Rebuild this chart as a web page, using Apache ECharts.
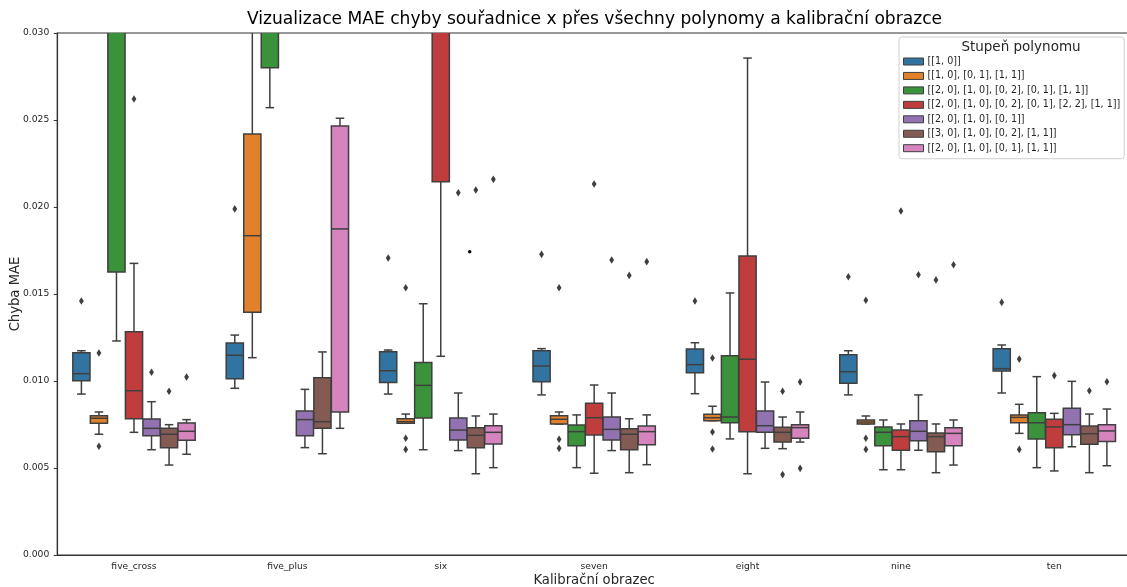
<!DOCTYPE html>
<html><head><meta charset="utf-8">
<script src="https://cdn.jsdelivr.net/npm/echarts/dist/echarts.min.js"></script>
<style>html,body{margin:0;padding:0;background:#fff}#c{width:1127px;height:587px}</style>
</head><body><div id="c"></div>
<script>
const categories = ['five_cross','five_plus','six','seven','eight','nine','ten'];
const hueNames = [
  '[[1, 0]]',
  '[[1, 0], [0, 1], [1, 1]]',
  '[[2, 0], [1, 0], [0, 2], [0, 1], [1, 1]]',
  '[[2, 0], [1, 0], [0, 2], [0, 1], [2, 2], [1, 1]]',
  '[[2, 0], [1, 0], [0, 1]]',
  '[[3, 0], [1, 0], [0, 2], [1, 1]]',
  '[[2, 0], [1, 0], [0, 1], [1, 1]]'
];
const yTicks = [0, 0.005, 0.010, 0.015, 0.020, 0.025, 0.030];

// [min, q1, median, q3, max] per category
const box0 = [[0.00925,0.01002,0.01042,0.01163,0.01174],[0.00958,0.01013,0.01148,0.01218,0.01264],[0.00925,0.00992,0.01059,0.01168,0.01178],[0.00920,0.00996,0.01086,0.01174,0.01186],[0.00927,0.01048,0.01094,0.01184,0.01220],[0.00920,0.00987,0.01053,0.01151,0.01174],[0.00931,0.01058,0.01071,0.01186,0.01207]];
const box1 = [[0.00694,0.00757,0.00786,0.00801,0.00822],[0.01134,0.01395,0.01835,0.02420,0.03450],[0.00757,0.00757,0.00766,0.00783,0.00810],[0.00753,0.00753,0.00780,0.00801,0.00822],[0.00772,0.00772,0.00789,0.00809,0.00855],[0.00753,0.00753,0.00764,0.00776,0.00799],[0.00699,0.00760,0.00791,0.00805,0.00866]];
const box2 = [[0.01230,0.01626,0.03250,0.04200,0.05000],[0.02571,0.02801,0.03600,0.04500,0.06000],[0.00605,0.00787,0.00975,0.01107,0.01444],[0.00502,0.00628,0.00709,0.00747,0.00805],[0.00667,0.00760,0.00793,0.01145,0.01506],[0.00490,0.00628,0.00705,0.00736,0.00776],[0.00502,0.00667,0.00760,0.00818,0.01025]];
const box3 = [[0.00705,0.00783,0.00944,0.01283,0.01676],[0.03200,0.03800,0.04500,0.05500,0.06500],[0.01142,0.02145,0.03400,0.04000,0.05000],[0.00470,0.00690,0.00789,0.00872,0.00977],[0.00467,0.00709,0.01125,0.01718,0.02856],[0.00490,0.00602,0.00680,0.00718,0.00753],[0.00483,0.00617,0.00736,0.00780,0.00814]];
const box4 = [[0.00605,0.00686,0.00728,0.00782,0.00881],[0.00617,0.00686,0.00778,0.00828,0.00952],[0.00600,0.00661,0.00718,0.00787,0.00931],[0.00600,0.00661,0.00722,0.00793,0.00931],[0.00613,0.00705,0.00743,0.00828,0.00994],[0.00602,0.00657,0.00711,0.00772,0.00920],[0.00622,0.00691,0.00749,0.00843,0.00998]];
const box5 = [[0.00517,0.00617,0.00694,0.00728,0.00749],[0.00582,0.00728,0.00766,0.01019,0.01167],[0.00467,0.00617,0.00688,0.00732,0.00799],[0.00473,0.00605,0.00694,0.00726,0.00783],[0.00611,0.00649,0.00705,0.00734,0.00793],[0.00473,0.00594,0.00680,0.00701,0.00753],[0.00473,0.00636,0.00697,0.00741,0.00810]];
const box6 = [[0.00579,0.00659,0.00711,0.00759,0.00778],[0.00728,0.00822,0.01874,0.02466,0.02510],[0.00502,0.00638,0.00705,0.00743,0.00810],[0.00519,0.00634,0.00709,0.00741,0.00805],[0.00649,0.00671,0.00732,0.00749,0.00822],[0.00517,0.00628,0.00699,0.00732,0.00776],[0.00513,0.00653,0.00713,0.00749,0.00839]];

// outliers: [categoryIndex, value]
const out0 = [[0,0.01460],[1,0.01989],[2,0.01707],[3,0.01728],[4,0.01460],[5,0.01599],[6,0.01452]];
const out1 = [[0,0.01161],[0,0.00625],[2,0.01536],[2,0.00671],[2,0.00607],[3,0.01536],[3,0.00665],[3,0.00613],[4,0.01132],[4,0.00707],[4,0.00609],[5,0.01464],[5,0.00671],[5,0.00607],[6,0.01126],[6,0.00607]];
const out2 = [];
const out3 = [[0,0.02621],[3,0.02132],[5,0.01977],[6,0.01031]];
const out4 = [[0,0.01050],[2,0.02082],[3,0.01695],[5,0.01611]];
const out5 = [[0,0.00941],[2,0.02098],[3,0.01607],[4,0.00941],[4,0.00462],[5,0.01581],[6,0.00944]];
const out6 = [[0,0.01023],[2,0.02159],[3,0.01686],[4,0.00994],[4,0.00498],[5,0.01668],[6,0.00996]];
const strayDot = [[2,0.01743]];

const boxes = [box0,box1,box2,box3,box4,box5,box6];
const outs = [out0,out1,out2,out3,out4,out5,out6];
const COLORS = ['#3274a1','#e1812c','#3a923a','#c03d3e','#9372b2','#845b53','#d684bd'];
const LINE = '#3f3f3f';
const NH = hueNames.length;
const FONT = 'DejaVu Sans';

function boxRender(h) {
  return function (params, api) {
    const ci = api.value(0);
    const band = api.size([1, 0])[0];
    const slot = band * 0.8 / NH;
    const cx = api.coord([ci, 0])[0] + (h - (NH - 1) / 2) * slot;
    const w = slot * 0.98;
    const y = k => api.coord([ci, api.value(k)])[1];
    const yMin = y(1), yQ1 = y(2), yMed = y(3), yQ3 = y(4), yMax = y(5);
    const ls = { stroke: LINE, lineWidth: 1.5 };
    const cap = w / 4;
    return { type: 'group', children: [
      { type: 'line', shape: { x1: cx, y1: yQ1, x2: cx, y2: yMin }, style: ls },
      { type: 'line', shape: { x1: cx, y1: yQ3, x2: cx, y2: yMax }, style: ls },
      { type: 'line', shape: { x1: cx - cap, y1: yMin, x2: cx + cap, y2: yMin }, style: ls },
      { type: 'line', shape: { x1: cx - cap, y1: yMax, x2: cx + cap, y2: yMax }, style: ls },
      { type: 'rect', shape: { x: cx - w / 2, y: yQ3, width: w, height: yQ1 - yQ3 }, style: { fill: COLORS[h], stroke: LINE, lineWidth: 1.5 } },
      { type: 'line', shape: { x1: cx - w / 2, y1: yMed, x2: cx + w / 2, y2: yMed }, style: ls }
    ]};
  };
}
function outRender(pos, kind) {
  return function (params, api) {
    const ci = api.value(0);
    const band = api.size([1, 0])[0];
    const slot = band * 0.8 / NH;
    const cx = api.coord([ci, 0])[0] + (pos - (NH - 1) / 2) * slot;
    const cy = api.coord([ci, api.value(1)])[1];
    if (kind === 'dot') {
      return { type: 'circle', shape: { cx: cx, cy: cy, r: 1.8 }, style: { fill: '#111' } };
    }
    const hw = 2.4, hh = 3.8;
    return { type: 'polygon', shape: { points: [[cx, cy - hh], [cx + hw, cy], [cx, cy + hh], [cx - hw, cy]] }, style: { fill: LINE } };
  };
}

const series = [];
for (let h = 0; h < NH; h++) {
  series.push({
    type: 'custom', name: hueNames[h], clip: true,
    itemStyle: { color: COLORS[h], borderColor: LINE, borderWidth: 1 },
    data: boxes[h].map((b, i) => [i].concat(b)),
    encode: { x: 0, y: [1, 2, 3, 4, 5] },
    renderItem: boxRender(h)
  });
}
for (let h = 0; h < NH; h++) {
  series.push({
    type: 'custom', name: 'outliers' + h, clip: true,
    data: outs[h], encode: { x: 0, y: 1 },
    renderItem: outRender(h, 'diamond')
  });
}
series.push({ type: 'custom', name: 'stray', clip: true, data: strayDot, encode: { x: 0, y: 1 }, renderItem: outRender(4.65, 'dot') });

const chart = echarts.init(document.getElementById('c'));
chart.setOption({
  animation: false,
  textStyle: { fontFamily: FONT },
  grid: { left: 57.3, right: -4, top: 33, bottom: 32, containLabel: false, outerBoundsMode: 'none',
    show: true, borderColor: '#333', borderWidth: 1.2, backgroundColor: 'transparent' },
  xAxis: {
    type: 'category', data: categories,
    name: 'Kalibrační obrazec', nameLocation: 'middle', nameGap: 19.5, nameMoveOverlap: false,
    nameTextStyle: { fontFamily: FONT, fontSize: 13.2, color: '#262626' },
    axisLine: { lineStyle: { color: '#333', width: 1.2 } },
    axisTick: { alignWithLabel: true, length: 3.5, lineStyle: { color: '#333' } },
    axisLabel: { fontFamily: FONT, fontSize: 9.2, color: '#262626', margin: 7 },
    splitLine: { show: false }
  },
  yAxis: {
    type: 'value', min: 0, max: 0.03, interval: 0.005,
    name: 'Chyba MAE', nameLocation: 'middle', nameGap: 35, nameRotate: 90, nameMoveOverlap: false,
    nameTextStyle: { fontFamily: FONT, fontSize: 13.2, color: '#262626' },
    axisLine: { show: true, lineStyle: { color: '#333', width: 1.2 } },
    axisTick: { show: true, length: 3.5, lineStyle: { color: '#333' } },
    axisLabel: { fontFamily: FONT, fontSize: 9.2, color: '#262626', margin: 8,
      formatter: v => { const t = yTicks.find(x => Math.abs(x - v) < 1e-9); return (t === undefined ? v : t).toFixed(3); } },
    splitLine: { show: false }
  },
  legend: {
    data: hueNames.map(n => ({ name: n, icon: 'rect' })),
    orient: 'vertical', left: 899, top: 37,
    padding: [18, 4, 4, 4],
    itemWidth: 20, itemHeight: 7, itemGap: 1.45,
    backgroundColor: '#fff', borderColor: '#d0d0d0', borderWidth: 1, borderRadius: 3,
    itemStyle: { borderColor: LINE, borderWidth: 1 },
    textStyle: { fontFamily: FONT, fontSize: 9.6, color: '#262626', lineHeight: 13, padding: [0, 0, 0, -1] },
    selectedMode: false
  },
  graphic: [{
    type: 'text', x: 1021, y: 47, z: 100,
    style: { text: 'Stupeň polynomu', fontFamily: FONT, fontSize: 13.5, fill: '#262626', align: 'center', verticalAlign: 'middle' }
  }, {
    type: 'text', x: 594.5, y: 20, z: 100,
    style: { text: 'Vizualizace MAE chyby souřadnice x přes všechny polynomy a kalibrační obrazce', fontFamily: FONT, fontSize: 17.1, fill: '#000', align: 'center', verticalAlign: 'middle' }
  }],
  series: series
});
</script></body></html>
